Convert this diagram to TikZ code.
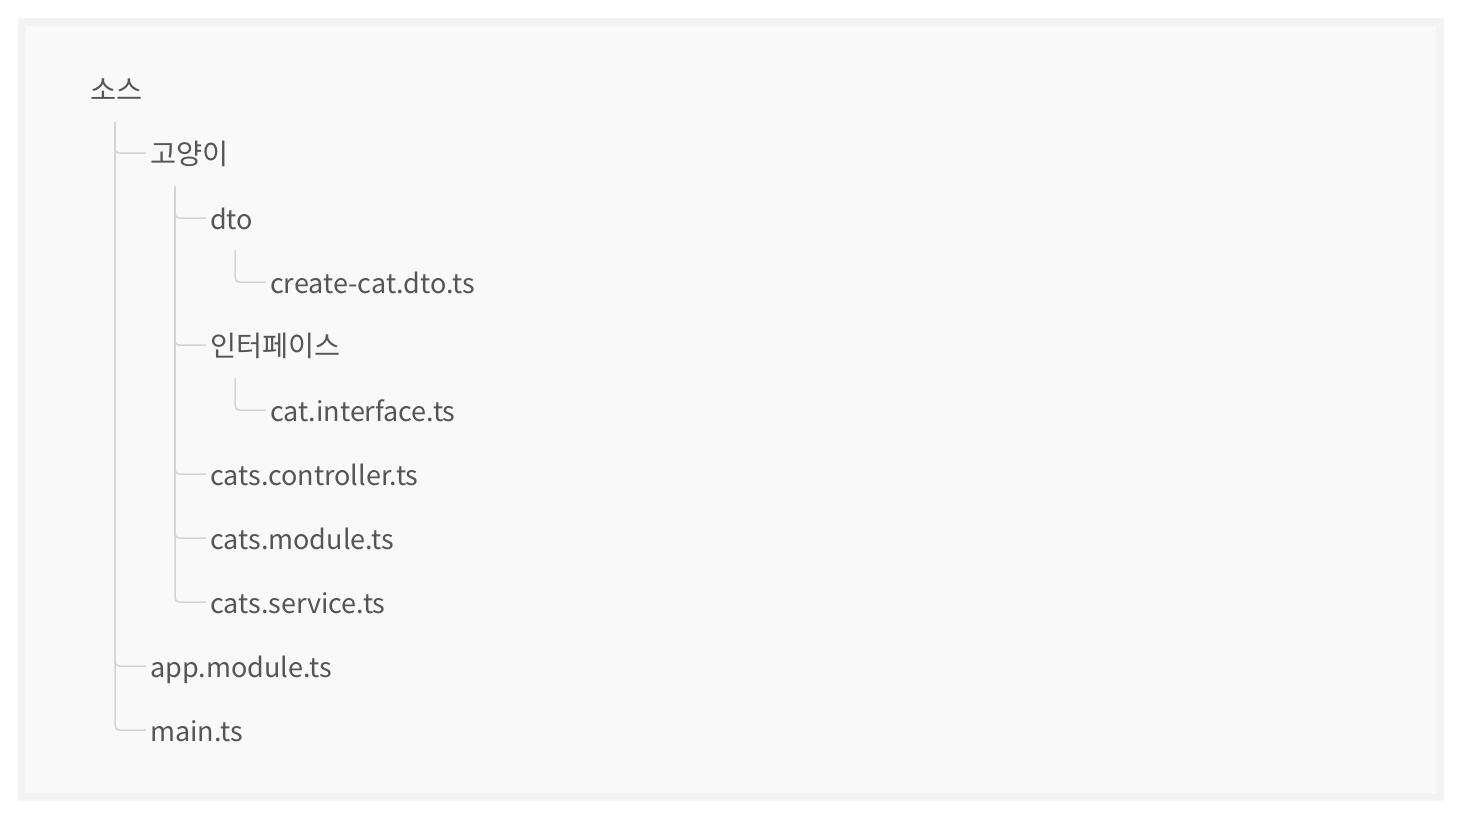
\documentclass[tikz,border=0pt]{standalone}
\usepackage{fontspec}
\setmainfont{Noto Sans CJK KR}
\newfontfamily\hangul{Noto Sans CJK KR}[Scale=1.05]
\definecolor{pagebg}{HTML}{FFFFFF}
\definecolor{framebg}{HTML}{F3F3F3}
\definecolor{panelbg}{HTML}{F9F9F9}
\definecolor{labeltext}{HTML}{555555}
\definecolor{wirecol}{HTML}{D4D4D4}
\begin{document}
\begin{tikzpicture}[x=1pt, y=-1pt,
    item/.style={anchor=west, inner xsep=4pt, inner ysep=0pt, text height=22pt, text depth=0pt,
        text=labeltext, font=\fontsize{27}{31}\selectfont},
    koitem/.style={item, font=\fontsize{27}{31}\selectfont\hangul},
    wire/.style={draw=wirecol, line width=1.5pt, rounded corners=4pt}]
        % Background
        \fill[pagebg] (0, 0) rectangle (1460, 820);
        \fill[framebg] (18, 18) rectangle (1444, 801);
        \fill[panelbg] (26, 26) rectangle (1436, 793);

        % Root
        \node[koitem] (src) at (86, 89) {소스};

        % First level
        \node[koitem] (cats) at (146, 153) {고양이};
        \node[item] (appmod) at (146, 666) {app.module.ts};
        \node[item] (mainf) at (146, 730) {main.ts};

        % Second level
        \node[item] (dto) at (206, 218) {dto};
        \node[koitem] (iface) at (206, 345) {인터페이스};
        \node[item] (ctrl) at (206, 474) {cats.controller.ts};
        \node[item] (mod) at (206, 538) {cats.module.ts};
        \node[item] (serv) at (206, 602) {cats.service.ts};

        % Third level
        \node[item] (createdto) at (266, 282) {create-cat.dto.ts};
        \node[item] (catiface) at (266, 410) {cat.interface.ts};

        % Stem tops
        \coordinate (srcstem) at (115, 122);
        \coordinate (catsstem) at (175, 186);
        \coordinate (dtostem) at (235, 250);
        \coordinate (ifacestem) at (235, 378);

        % Connections
        \foreach \s/\c in {srcstem/cats, srcstem/appmod, srcstem/mainf,
                           catsstem/dto, catsstem/iface, catsstem/ctrl, catsstem/mod, catsstem/serv,
                           dtostem/createdto, ifacestem/catiface} {
            \draw[wire] (\s) |- (\c.west);
        }
    \end{tikzpicture}
\end{document}
